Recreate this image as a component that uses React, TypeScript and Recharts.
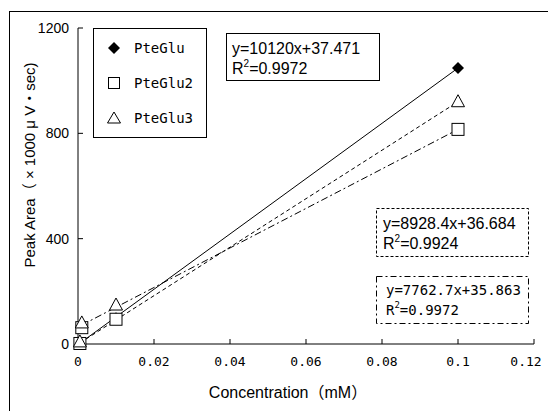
import { ComposedChart, Line, Scatter, XAxis, YAxis } from 'recharts';

// ticks
const xTicks = [0, 0.02, 0.04, 0.06, 0.08, 0.1, 0.12];
const xTickLabels = ['0', '0.02', '0.04', '0.06', '0.08', '0.1', '0.12'];
const yTicks = [0, 400, 800, 1200];

const seriesNames = ['PteGlu', 'PteGlu2', 'PteGlu3'];

// measured points
const pteGlu = [
    { x: 0.0005, y: 3 },
    { x: 0.01, y: 98 },
    { x: 0.1, y: 1048 },
];
const pteGlu2 = [
    { x: 0.0005, y: 2 },
    { x: 0.001, y: 62 },
    { x: 0.01, y: 94 },
    { x: 0.1, y: 815 },
];
const pteGlu3 = [
    { x: 0.0005, y: 8 },
    { x: 0.001, y: 80 },
    { x: 0.01, y: 148 },
    { x: 0.1, y: 920 },
];

// trend lines as drawn
const trendPteGlu = [
    { x: 0.0005, y: 3 },
    { x: 0.1, y: 1048 },
];
const trendPteGlu2 = [
    { x: 0.001, y: 72 },
    { x: 0.1, y: 815 },
];
const trendPteGlu3 = [
    { x: 0.0005, y: 4 },
    { x: 0.1, y: 920 },
];

const equations = [
    { eq: 'y=10120x+37.471', r2: '0.9972' },
    { eq: 'y=8928.4x+36.684', r2: '0.9924' },
    { eq: 'y=7762.7x+35.863', r2: '0.9972' },
];

const SANS = '"Liberation Sans", Arial, "Noto Sans CJK JP", sans-serif';
const MONO = '"DejaVu Sans Mono", "Liberation Mono", monospace';

const DiamondDot = (p: any) => {
    const { cx, cy } = p;
    return <path d={`M${cx},${cy - 6}L${cx + 6},${cy}L${cx},${cy + 6}L${cx - 6},${cy}Z`} fill="#000" />;
};
const SquareDot = (p: any) => {
    const { cx, cy } = p;
    return <rect x={cx - 6} y={cy - 6} width={12} height={12} fill="#fff" stroke="#000" strokeWidth={1} />;
};
const TriangleDot = (p: any) => {
    const { cx, cy } = p;
    return <path d={`M${cx},${cy - 7}L${cx + 6.5},${cy + 5}L${cx - 6.5},${cy + 5}Z`} fill="#fff" stroke="#000" strokeWidth={1} />;
};

// last label is pulled left so it stays inside the frame
const XTick = (p: any) => {
    const { x, y, payload } = p;
    const i = xTicks.indexOf(payload.value);
    const label = xTickLabels[i] ?? String(payload.value);
    const shift = i === xTicks.length - 1 ? -8 : 0;
    return (
        <text x={x + shift} y={y} dy="0.71em" textAnchor="middle" fontFamily={MONO} fontSize={13} fill="#000">
            {label}
        </text>
    );
};

const Overlay = () => (
    <svg width={548} height={411} style={{ position: 'absolute', left: 0, top: 0, pointerEvents: 'none' }}>
        {/* legend */}
        <rect x={93.5} y={28.5} width={113} height={109} fill="#fff" stroke="#000" />
        <path d="M114,42L120,48L114,54L108,48Z" fill="#000" />
        <rect x={108.5} y={77.5} width={11} height={11} fill="#fff" stroke="#000" />
        <path d="M114,112L120.5,123L107.5,123Z" fill="#fff" stroke="#000" />
        {seriesNames.map((n, i) => (
            <text key={n} x={134} y={53 + i * 35} fontFamily={MONO} fontSize={14} fill="#000">{n}</text>
        ))}

        {/* equation boxes */}
        <rect x={226.5} y={33.5} width={153} height={47} fill="#fff" stroke="#000" />
        <text x={232} y={54} fontFamily={SANS} fontSize={16} fill="#000">{equations[0].eq}</text>
        <text x={232} y={74} fontFamily={SANS} fontSize={16} fill="#000">
            R<tspan fontSize={10} dy={-7}>2</tspan><tspan dy={7}>={equations[0].r2}</tspan>
        </text>

        <rect x={376.5} y={208.5} width={152} height={48} fill="#fff" stroke="#000" strokeDasharray="3 2" />
        <text x={383} y={229} fontFamily={SANS} fontSize={16} fill="#000">{equations[1].eq}</text>
        <text x={383} y={249} fontFamily={SANS} fontSize={16} fill="#000">
            R<tspan fontSize={10} dy={-7}>2</tspan><tspan dy={7}>={equations[1].r2}</tspan>
        </text>

        <rect x={376.5} y={276.5} width={152} height={47} fill="#fff" stroke="#000" strokeDasharray="6 3 2 3" />
        <text x={386} y={295} fontFamily={MONO} fontSize={14} fill="#000">{equations[2].eq}</text>
        <text x={386} y={315} fontFamily={MONO} fontSize={14} fill="#000">
            R<tspan fontSize={9} dy={-7}>2</tspan><tspan dy={7}>={equations[2].r2}</tspan>
        </text>

        {/* axis titles */}
        <text x={288} y={392} textAnchor="middle" dominantBaseline="central" fontFamily={SANS} fontSize={16} fill="#000">
            Concentration（mM）
        </text>
        <text
            transform="translate(29,165) rotate(-90)"
            textAnchor="middle"
            dominantBaseline="central"
            fontFamily={SANS}
            fontSize={15}
            fill="#000"
        >
            Peak Area（ × 1000 μ V・sec)
        </text>
    </svg>
);

export default function App() {
    return (
        <div style={{ position: 'absolute', left: 0, top: 0, width: 548, height: 411, overflow: 'hidden', background: '#fff' }}>
            <div style={{ position: 'absolute', left: 9, top: 11, width: 560, height: 420, border: '1px solid #000', boxSizing: 'border-box' }} />
            <ComposedChart
                width={548}
                height={411}
                margin={{ top: 28, right: 14, bottom: 0, left: 0 }}
                style={{ position: 'absolute', left: 0, top: 0 }}
            >
                <XAxis
                    type="number"
                    dataKey="x"
                    domain={[0, 0.12]}
                    ticks={xTicks}
                    height={67}
                    tickSize={-5}
                    tickMargin={18}
                    stroke="#000"
                    tick={<XTick />}
                    interval={0}
                />
                <YAxis
                    type="number"
                    dataKey="y"
                    domain={[0, 1200]}
                    ticks={yTicks}
                    width={78}
                    tickSize={-5}
                    tickMargin={14}
                    stroke="#000"
                    tick={{ fill: '#000', fontFamily: SANS, fontSize: 14 }}
                    interval={0}
                />
                <Line data={trendPteGlu} dataKey="y" stroke="#000" strokeWidth={1} dot={false} isAnimationActive={false} />
                <Line data={trendPteGlu3} dataKey="y" stroke="#000" strokeWidth={1} strokeDasharray="4 3" dot={false} isAnimationActive={false} />
                <Line data={trendPteGlu2} dataKey="y" stroke="#000" strokeWidth={1} strokeDasharray="7 3 2 3" dot={false} isAnimationActive={false} />
                <Scatter name={seriesNames[0]} data={pteGlu} shape={DiamondDot} isAnimationActive={false} />
                <Scatter name={seriesNames[1]} data={pteGlu2} shape={SquareDot} isAnimationActive={false} />
                <Scatter name={seriesNames[2]} data={pteGlu3} shape={TriangleDot} isAnimationActive={false} />
            </ComposedChart>
            <Overlay />
        </div>
    );
}
